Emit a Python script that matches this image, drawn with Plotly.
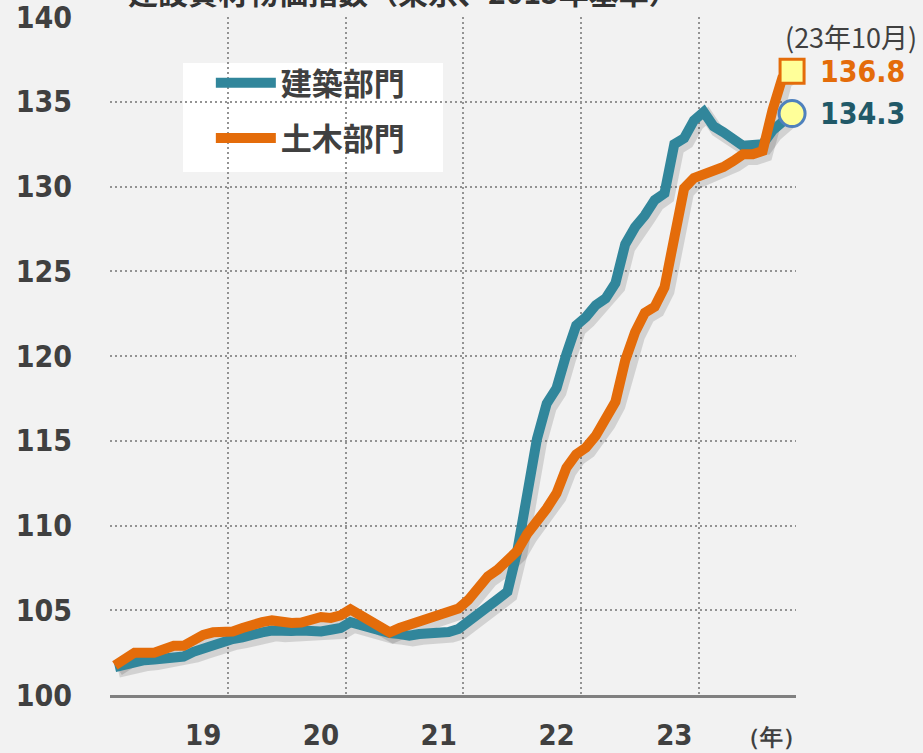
import plotly.graph_objects as go

# ---- data (monthly, Jan 2018 .. Oct 2023; index 0 = 2018-01) ----
months = list(range(70))

kenchiku = [101.65, 101.8, 102.0, 102.05, 102.1, 102.2, 102.25, 102.27, 102.55, 102.75,
            103.0, 103.2, 103.3, 103.4, 103.6, 103.7, 103.8, 103.75, 103.78, 103.8,
            103.73, 103.75, 103.85, 103.95, 104.3, 104.1, 103.9, 103.75, 103.65, 103.6,
            103.5, 103.6, 103.62, 103.68, 103.72, 103.9, 104.3, 104.75, 105.25, 105.65,
            106.1, 108.5, 111.8, 115.1, 117.2, 118.1, 120.1, 121.8, 122.3, 123.0,
            123.4, 124.3, 126.6, 127.6, 128.3, 129.2, 129.6, 132.5, 132.85, 133.9,
            134.4, 133.55, 133.2, 132.85, 132.4, 132.45, 132.5, 133.3, 133.9, 134.3]

doboku = [101.75, 102.1, 102.5, 102.5, 102.5, 102.7, 102.9, 102.9, 103.25, 103.55,
          103.7, 103.7, 103.75, 103.95, 104.2, 104.3, 104.4, 104.25, 104.25, 104.28,
          104.45, 104.6, 104.55, 104.7, 105.05, 104.75, 104.45, 104.05, 103.7, 103.95,
          104.15, 104.3, 104.6, 104.75, 104.85, 105.1, 105.6, 106.3, 107.0, 107.4,
          107.9, 108.5, 109.5, 110.2, 111.0, 111.9, 113.4, 114.2, 114.6, 115.3,
          116.2, 117.3, 119.75, 121.4, 122.55, 122.9, 124.05, 127.0, 129.9, 130.5,
          130.7, 131.0, 131.15, 131.5, 131.9, 131.9, 132.1, 134.5, 136.4, 136.8]

series_names = ["建築部門", "土木部門"]
year_labels = ["19", "20", "21", "22", "23", "<span style='font-size:23px'>（年）</span>"]
year_label_pos = [9, 21, 33, 45, 57, 66.9]
year_bounds = [-0.5, 11.5, 23.5, 35.5, 47.5, 59.5]
y_ticks = [100, 105, 110, 115, 120, 125, 130, 135, 140]
title_text = "建設資材物価指数（東京、2015年基準）"
last_label = "(23年10月)"

TEAL = "#31869b"
ORANGE = "#e46c0a"
TXT = "#404040"
NUM_FONT = "DejaVu Sans Condensed, DejaVu Sans, sans-serif"
CJK_FONT = "Noto Sans CJK JP, sans-serif"

fig = go.Figure()

# soft drop shadows (same data, nudged down/right)
for vals in (kenchiku, doboku):
    fig.add_trace(go.Scatter(
        x=[m + 0.35 for m in months], y=[v - 0.25 for v in vals], mode="lines",
        line=dict(color="rgba(0,0,0,0.13)", width=13), showlegend=False, hoverinfo="skip"))

fig.add_trace(go.Scatter(x=months, y=kenchiku, mode="lines", name=series_names[0],
                         line=dict(color=TEAL, width=10), legendgroup="a"))
fig.add_trace(go.Scatter(x=months, y=doboku, mode="lines", name=series_names[1],
                         line=dict(color=ORANGE, width=10), legendgroup="b"))

# end-point markers
fig.add_trace(go.Scatter(x=[months[-1]], y=[kenchiku[-1]], mode="markers", showlegend=False,
                         cliponaxis=False,
                         marker=dict(symbol="circle", size=26, color="#ffff99",
                                     line=dict(color="#4f81bd", width=3))))
fig.add_trace(go.Scatter(x=[months[-1]], y=[doboku[-1]], mode="markers", showlegend=False,
                         cliponaxis=False,
                         marker=dict(symbol="square", size=24, color="#ffff99",
                                     line=dict(color=ORANGE, width=3))))

# end-point value labels
fig.add_annotation(x=months[-1], y=doboku[-1], text=f"{doboku[-1]:.1f}", showarrow=False,
                   xanchor="left", yanchor="middle", xshift=26,
                   font=dict(family=NUM_FONT, size=30, color=ORANGE, weight="bold"))
fig.add_annotation(x=months[-1], y=kenchiku[-1], text=f"{kenchiku[-1]:.1f}", showarrow=False,
                   xanchor="left", yanchor="middle", xshift=26,
                   font=dict(family=NUM_FONT, size=30, color="#215968", weight="bold"))
fig.add_annotation(x=1.0, xref="paper", y=doboku[-1], yref="y", text=last_label,
                   showarrow=False, xanchor="right", yanchor="middle", xshift=123, yshift=35,
                   font=dict(family=CJK_FONT, size=27, color=TXT))

# title at the very top (partly cut off, as in the source)
fig.add_annotation(x=0.428, xref="paper", y=1.0, yref="paper", text=f"<b>{title_text}</b>",
                   showarrow=False, xanchor="center", yanchor="bottom", yshift=2,
                   font=dict(family=CJK_FONT, size=30, color="#333333"))

# white legend panel
fig.add_shape(type="rect", xref="paper", yref="paper", x0=0.1064, x1=0.4854,
              y0=0.7714, y1=0.9322, fillcolor="#ffffff", line=dict(width=0), layer="between")

grid = dict(gridcolor="#939393", gridwidth=2, griddash="2px,3px")

fig.update_layout(
    width=923, height=753,
    margin=dict(l=110, r=127, t=17, b=58, autoexpand=False),
    paper_bgcolor="#f2f2f2", plot_bgcolor="#f2f2f2",
    showlegend=True,
    legend=dict(x=0.147, y=0.9425, xanchor="left", yanchor="top", bgcolor="rgba(0,0,0,0)",
                font=dict(family=CJK_FONT, size=31, color=TXT, weight="bold"),
                traceorder="grouped", tracegroupgap=12, itemwidth=60,
                borderwidth=0),
    xaxis=dict(range=[-0.5, 69.4], tickmode="array", tickvals=year_label_pos,
               ticktext=year_labels, showgrid=False, zeroline=False, ticks="",
               ticklabelstandoff=12, automargin=False, ticklabeloverflow="allow",
               tickfont=dict(family=NUM_FONT, size=29, color=TXT, weight="bold"),
               showline=True, linecolor="#808080", linewidth=3,
               minor=dict(tickmode="array", tickvals=year_bounds, showgrid=True, **grid)),
    yaxis=dict(range=[100, 140], tickmode="array", tickvals=y_ticks, showgrid=True,
               zeroline=False, ticks="", ticklabelstandoff=37, automargin=False,
               ticklabeloverflow="allow",
               tickfont=dict(family=NUM_FONT, size=30, color=TXT, weight="bold"),
               **grid),
)

fig.write_html("out.html")
